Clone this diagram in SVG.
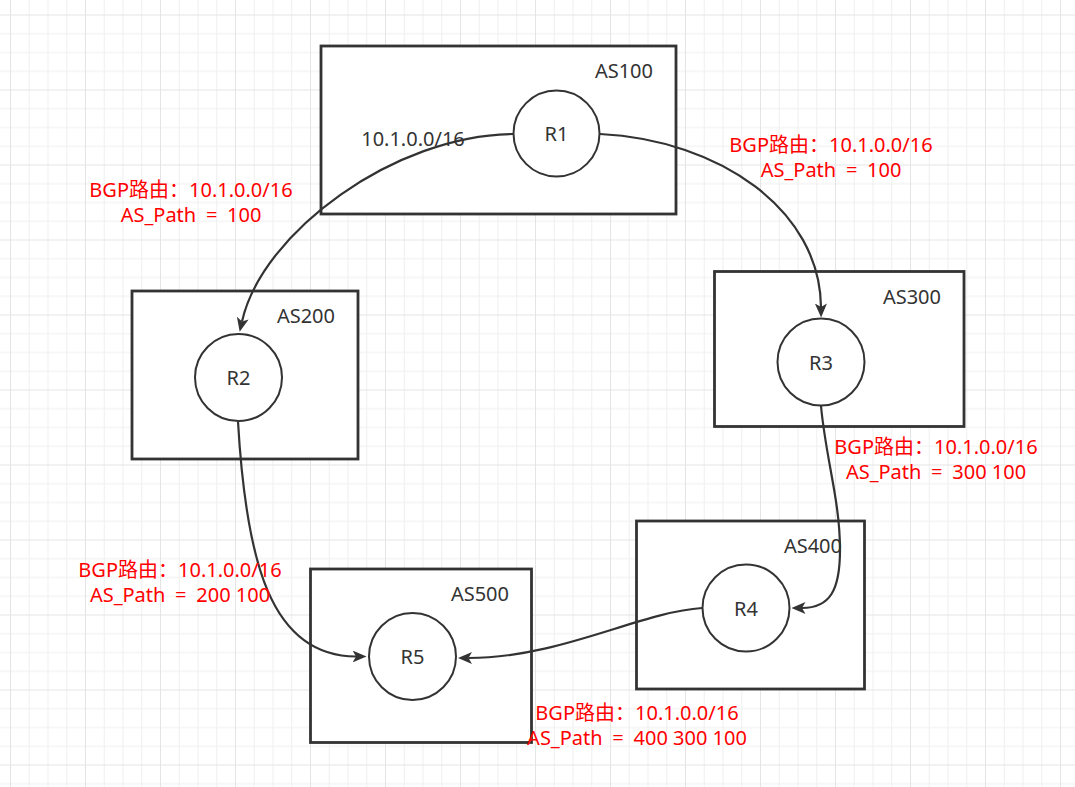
<svg xmlns="http://www.w3.org/2000/svg" width="1075" height="787" viewBox="0 0 1075 787">
<defs>
<pattern id="grid" x="10" y="14.5" width="75" height="75" patternUnits="userSpaceOnUse">
<rect x="0" y="0" width="75" height="75" fill="#ffffff"/>
<g fill="#f0f0f0">
<rect x="18.75" y="0" width="1" height="75"/><rect x="37.5" y="0" width="1" height="75"/><rect x="56.25" y="0" width="1" height="75"/>
<rect x="0" y="18.75" width="75" height="1"/><rect x="0" y="37.5" width="75" height="1"/><rect x="0" y="56.25" width="75" height="1"/>
</g>
<g fill="#e4e4e4">
<rect x="0" y="0" width="1" height="75"/><rect x="0" y="0" width="75" height="1"/>
</g>
</pattern>
<marker id="arrow" viewBox="0 0 14 12" markerWidth="14" markerHeight="12" refX="3.5" refY="6" orient="auto" markerUnits="userSpaceOnUse">
<path d="M0,0 L14,6 L0,12 L3.5,6 z" fill="#333333"/>
</marker>
<style>
.box{fill:#ffffff;stroke:#333333;stroke-width:2.8}
.router{fill:#ffffff;stroke:#333333;stroke-width:2}
.t{font-family:"Noto Sans","Open Sans","Noto Sans CJK SC",sans-serif;font-size:20px;fill:#333333}
.as{text-anchor:end}
.rl{text-anchor:middle}
.red{font-family:"Noto Sans","Noto Sans CJK SC",sans-serif;font-size:20px;fill:#ff0000;text-anchor:middle}
.eq{word-spacing:4.5px}
.edge{fill:none;stroke:#333333;stroke-width:2.2;marker-end:url(#arrow)}
</style>
</defs>
<rect x="0" y="0" width="1075" height="787" fill="url(#grid)"/>

<g id="AS100"><rect class="box" x="321" y="46" width="355" height="168"/><text class="t as" x="653" y="78">AS100</text></g>
<g id="AS200"><rect class="box" x="132" y="291" width="226" height="168"/><text class="t as" x="335" y="323">AS200</text></g>
<g id="AS300"><rect class="box" x="714.5" y="271.5" width="249.5" height="155"/><text class="t as" x="941" y="303.5">AS300</text></g>
<g id="AS400"><rect class="box" x="636.5" y="521" width="228" height="168"/><text class="t as" x="842" y="553">AS400</text></g>
<g id="AS500"><rect class="box" x="310.5" y="569" width="221" height="173.5"/><text class="t as" x="509" y="601">AS500</text></g>

<g id="prefix"><text class="t rl" x="413" y="146">10.1.0.0/16</text></g>

<g id="R1"><circle class="router" cx="556.5" cy="133.5" r="43"/><text class="t rl" x="556.5" y="141">R1</text></g>
<g id="R2"><circle class="router" cx="238.5" cy="377.5" r="43.5"/><text class="t rl" x="238.5" y="385">R2</text></g>
<g id="R3"><circle class="router" cx="821" cy="362" r="43.5"/><text class="t rl" x="821" y="369.5">R3</text></g>
<g id="R4"><circle class="router" cx="746" cy="608" r="43.5"/><text class="t rl" x="746" y="615.5">R4</text></g>
<g id="R5"><circle class="router" cx="412.5" cy="656.5" r="43.5"/><text class="t rl" x="412.5" y="664">R5</text></g>

<g id="connectors">
<path class="edge" d="M513,134 C395,135 262,232 242,321.5"/>
<path class="edge" d="M600,134 C720,140 820,210 821,307"/>
<path class="edge" d="M821,406 C826,460 840,500 840,550 C840,590 830,608 802,608"/>
<path class="edge" d="M238,421.5 C246,560 270,656.5 356,656.5"/>
<path class="edge" d="M702,608 C640,612 560,658 468.5,658"/>
</g>

<g id="label-R1-R2"><text class="red" x="191" y="197">BGP路由：10.1.0.0/16</text><text class="red" x="191" y="222">AS_Path<tspan class="eq"> = </tspan>100</text></g>
<g id="label-R1-R3"><text class="red" x="831" y="151.5">BGP路由：10.1.0.0/16</text><text class="red" x="831" y="176.5">AS_Path<tspan class="eq"> = </tspan>100</text></g>
<g id="label-R3-R4"><text class="red" x="936" y="454">BGP路由：10.1.0.0/16</text><text class="red" x="936" y="478.5">AS_Path<tspan class="eq"> = </tspan>300 100</text></g>
<g id="label-R2-R5"><text class="red" x="180" y="576.5">BGP路由：10.1.0.0/16</text><text class="red" x="180" y="601.5">AS_Path<tspan class="eq"> = </tspan>200 100</text></g>
<g id="label-R4-R5"><text class="red" x="637" y="720">BGP路由：10.1.0.0/16</text><text class="red" x="637" y="745">AS_Path<tspan class="eq"> = </tspan>400 300 100</text></g>
</svg>
